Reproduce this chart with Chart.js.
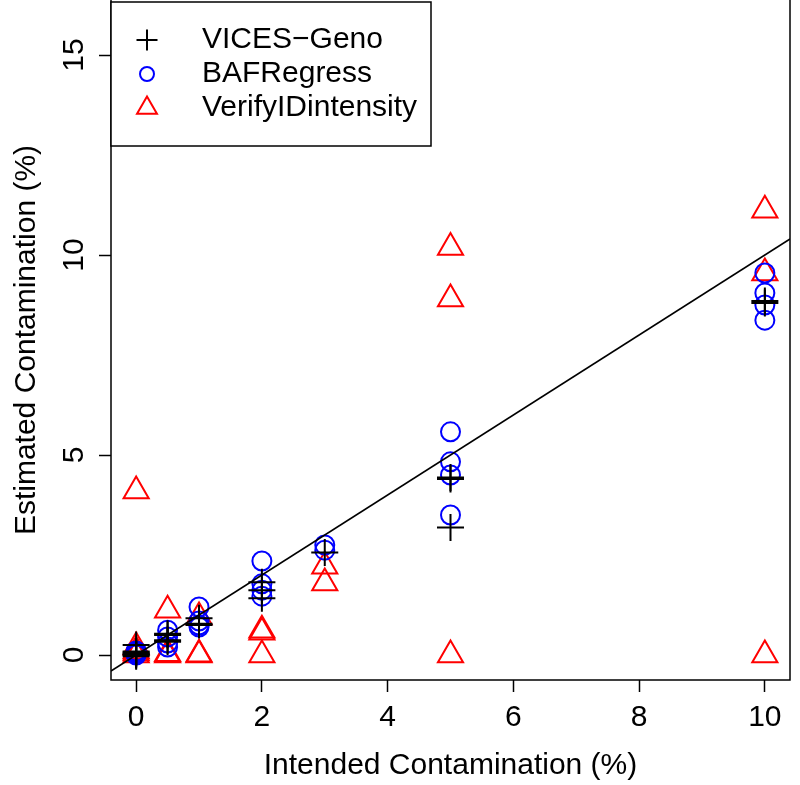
<!DOCTYPE html>
<html>
<head>
<meta charset="utf-8">
<script src="https://cdn.jsdelivr.net/npm/chart.js@4"></script>
<style>
  html, body { margin: 0; padding: 0; background: #fff; }
  #wrap { width: 800px; height: 785px; }
</style>
</head>
<body>
<div id="wrap"><canvas id="contam_chart" width="800" height="785"></canvas></div>
<script>
// intended contamination levels (%)
const levels = [0, 0.5, 1, 2, 3, 5, 10];

// estimated contamination (%) per level, one inner list per level
const vicesGeno = [
  [-0.03, 0, 0.02, 0.04, 0.06, 0.09, 0.25],
  [0.33, 0.37, 0.5, 0.53],
  [0.75, 0.78, 0.92],
  [1.42, 1.62, 1.82],
  [2.56],
  [3.19, 4.4, 4.44],
  [8.8, 8.85]
];
const bafRegress = [
  [0, 0.02, 0.05, 0.08, 0.1],
  [0.2, 0.3, 0.45, 0.62],
  [0.7, 0.75, 0.85, 1.2],
  [1.47, 1.62, 1.78, 2.35],
  [2.62, 2.75],
  [3.5, 4.5, 4.83, 5.58],
  [8.37, 8.75, 9.05, 9.55]
];
const verifyIDintensity = [
  [0, 0.05, 0.1, 0.2, 4.1],
  [0, 0.03, 1.12],
  [0, 0.02, 0.95],
  [0, 0.57, 0.62],
  [1.8, 2.22],
  [0, 8.9, 10.19],
  [0, 9.55, 11.12]
];

const xTicks = [0, 2, 4, 6, 8, 10];
const yTicks = [0, 5, 10, 15];
const xLim = [-0.4, 10.4];
const yLim = [-0.625, 16.375];

const seriesNames = ["VICES\u2212Geno", "BAFRegress", "VerifyIDintensity"];

const FONT = "'Liberation Sans', Arial, Helvetica, sans-serif";
Chart.defaults.font.family = FONT;
Chart.defaults.color = "#000";

function toPoints(values) {
  return levels.flatMap((x, i) => values[i].map((y) => ({ x: x, y: y })));
}

const markers = [
  { style: "cross", color: "#000000", plotR: 13.5, keyR: 10.5 },
  { style: "circle", color: "#0000ff", plotR: 9.5, keyR: 7 },
  { style: "triangle", color: "#ff0000", plotR: 14.5, keyR: 11.5 },
];

function pointSet(label, values, m, order) {
  return {
    label: label,
    data: toPoints(values),
    pointStyle: m.style,
    pointRadius: m.plotR,
    pointBorderColor: m.color,
    pointBackgroundColor: "rgba(0,0,0,0)",
    pointBorderWidth: 2,
    order: order,
  };
}

// R-like frame plus the boxed legend in the top left corner
const framePlugin = {
  id: "frame",
  afterDraw(chart) {
    const ctx = chart.ctx;
    const a = chart.chartArea;
    ctx.save();
    ctx.strokeStyle = "#000";
    ctx.lineWidth = 1.5;
    ctx.strokeRect(a.left, a.top - 20, a.right - a.left, a.bottom - a.top + 20);

    const box = { left: a.left, top: 2, right: 431, bottom: 146 };
    ctx.fillStyle = "#fff";
    ctx.fillRect(box.left, box.top, box.right - box.left, box.bottom - box.top);
    ctx.strokeRect(box.left, box.top, box.right - box.left, box.bottom - box.top);

    const rowY = [40, 74, 108];
    ctx.font = "30px " + FONT;
    ctx.textBaseline = "middle";
    ctx.textAlign = "left";
    markers.forEach((m, i) => {
      ctx.strokeStyle = m.color;
      ctx.fillStyle = "rgba(0,0,0,0)";
      ctx.lineWidth = 2;
      Chart.helpers.drawPoint(ctx, { pointStyle: m.style, radius: m.keyR, rotation: 0, borderWidth: 2 }, 147, rowY[i]);
      ctx.fillStyle = "#000";
      ctx.fillText(seriesNames[i], 202, rowY[i]);
    });
    ctx.restore();
  },
};

const canvas = document.getElementById("contam_chart");

const chart = new Chart(canvas, {
  type: "scatter",
  data: {
    datasets: [
      {
        label: "y = x",
        data: [
          { x: xLim[0], y: xLim[0] },
          { x: xLim[1], y: xLim[1] },
        ],
        showLine: true,
        borderColor: "#000",
        borderWidth: 1.5,
        pointRadius: 0,
        order: 0,
      },
      pointSet(seriesNames[0], vicesGeno, markers[0], 1),
      pointSet(seriesNames[1], bafRegress, markers[1], 2),
      pointSet(seriesNames[2], verifyIDintensity, markers[2], 3),
    ],
  },
  options: {
    responsive: false,
    animation: false,
    events: [],
    layout: { autoPadding: false, padding: { top: 0, right: 10, bottom: 0, left: 0 } },
    plugins: {
      legend: { display: false },
      tooltip: { enabled: false },
    },
    scales: {
      x: {
        type: "linear",
        min: xLim[0],
        max: xLim[1],
        afterBuildTicks: (s) => { s.ticks = xTicks.map((v) => ({ value: v })); },
        afterFit: (s) => { s.height = 105; s.paddingLeft = 0; s.paddingRight = 0; },
        border: { display: false },
        grid: { drawOnChartArea: false, tickLength: 12, tickColor: "#000", tickWidth: 1.5 },
        ticks: { color: "#000", font: { size: 30 }, padding: 8, maxRotation: 0, autoSkip: false },
        title: {
          display: true,
          text: "Intended Contamination (%)",
          color: "#000",
          font: { size: 30 },
          padding: { top: 0, bottom: 1 },
        },
      },
      y: {
        type: "linear",
        min: yLim[0],
        max: yLim[1],
        afterBuildTicks: (s) => { s.ticks = yTicks.map((v) => ({ value: v })); },
        afterFit: (s) => { s.width = 111; s.paddingTop = 0; s.paddingBottom = 0; },
        border: { display: false },
        grid: { drawOnChartArea: false, tickLength: 12, tickColor: "#000", tickWidth: 1.5 },
        ticks: {
          color: "#000",
          font: { size: 30 },
          padding: 8,
          minRotation: 90,
          maxRotation: 90,
          crossAlign: "center",
        },
        title: {
          display: true,
          text: "Estimated Contamination (%)",
          color: "#000",
          font: { size: 30 },
          padding: { top: 9, bottom: 0 },
        },
      },
    },
  },
  plugins: [framePlugin],
});
</script>
</body>
</html>
